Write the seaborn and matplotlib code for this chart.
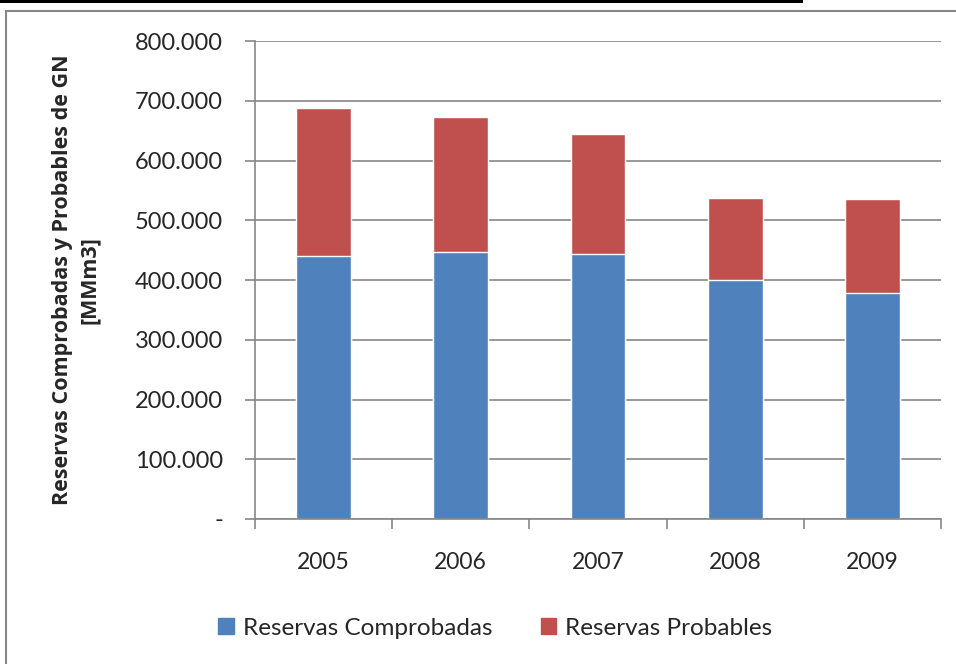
import pandas as pd
import matplotlib.pyplot as plt
import matplotlib.ticker as mticker
from matplotlib.patches import Rectangle, Patch
import seaborn as sns

# Datos (miles de MMm3)
anios = ["2005", "2006", "2007", "2008", "2009"]
comprobadas = [440000, 447000, 443000, 400000, 379000]
probables = [248000, 226000, 201000, 138000, 156000]

df = pd.DataFrame({"Anio": anios, "Comprobadas": comprobadas, "Probables": probables})
df["Total"] = df["Comprobadas"] + df["Probables"]

sns.set_style("white")
plt.rcParams["font.family"] = ["Lato", "DejaVu Sans"]

azul = "#4f81bd"
rojo = "#c0504d"
gris = "#868686"

fig = plt.figure(figsize=(9.56, 6.64), dpi=100)
ax = fig.add_axes([0.2667, 0.2184, 0.7176, 0.7196])

# barras apiladas: total (rojo) y comprobadas (azul) encima
sns.barplot(data=df, x="Anio", y="Total", color=rojo, width=0.4, saturation=1, ax=ax)
sns.barplot(data=df, x="Anio", y="Comprobadas", color=azul, width=0.4, saturation=1, ax=ax)

ax.set_xlim(-0.5, 4.5)
ax.set_ylim(0, 800000)
ax.yaxis.set_major_locator(mticker.MultipleLocator(100000))
ax.yaxis.set_major_formatter(mticker.FuncFormatter(
    lambda v, p: "-" if v == 0 else f"{int(v):,}".replace(",", ".")))
ax.grid(axis="y", color=gris, linewidth=1.2)
ax.set_axisbelow(True)

for s in ["top", "right"]:
    ax.spines[s].set_visible(False)
for s in ["left", "bottom"]:
    ax.spines[s].set_color(gris)
    ax.spines[s].set_linewidth(1.2)

ax.set_xticks(range(5))
ax.set_xticks([-0.5, 0.5, 1.5, 2.5, 3.5, 4.5], minor=True)
ax.tick_params(axis="x", which="major", bottom=True, length=0, labelsize=16.5, pad=24)
ax.tick_params(axis="x", which="minor", bottom=True, length=7, color=gris, width=1.2,
               direction="out")
ax.tick_params(axis="y", left=True, length=7, color=gris, width=1.2, direction="out",
               labelsize=17, pad=16)

ax.set_xlabel("")
ax.set_ylabel("Reservas Comprobadas y Probables de GN\n[MMm3]", fontsize=15.5,
              fontweight="bold", family=["Open Sans", "DejaVu Sans"], labelpad=25,
              linespacing=1.4)

# leyenda abajo
handles = [Patch(color=azul, label="Reservas Comprobadas"),
           Patch(color=rojo, label="Reservas Probables")]
fig.legend(handles=handles, loc="center", bbox_to_anchor=(0.518, 0.054), ncol=2,
           frameon=False, fontsize=17.5, handlelength=0.65, handleheight=0.65,
           columnspacing=2.0, handletextpad=0.35)

# marco del grafico y barra negra superior
fig.patches.append(Rectangle((0.006, -0.01), 1.1, 0.994, transform=fig.transFigure,
                             fill=False, edgecolor=gris, linewidth=1.5))
fig.patches.append(Rectangle((0, 0.995), 0.84, 0.01, transform=fig.transFigure,
                             facecolor="black", edgecolor="none"))

fig.savefig("out.png", dpi=100)
